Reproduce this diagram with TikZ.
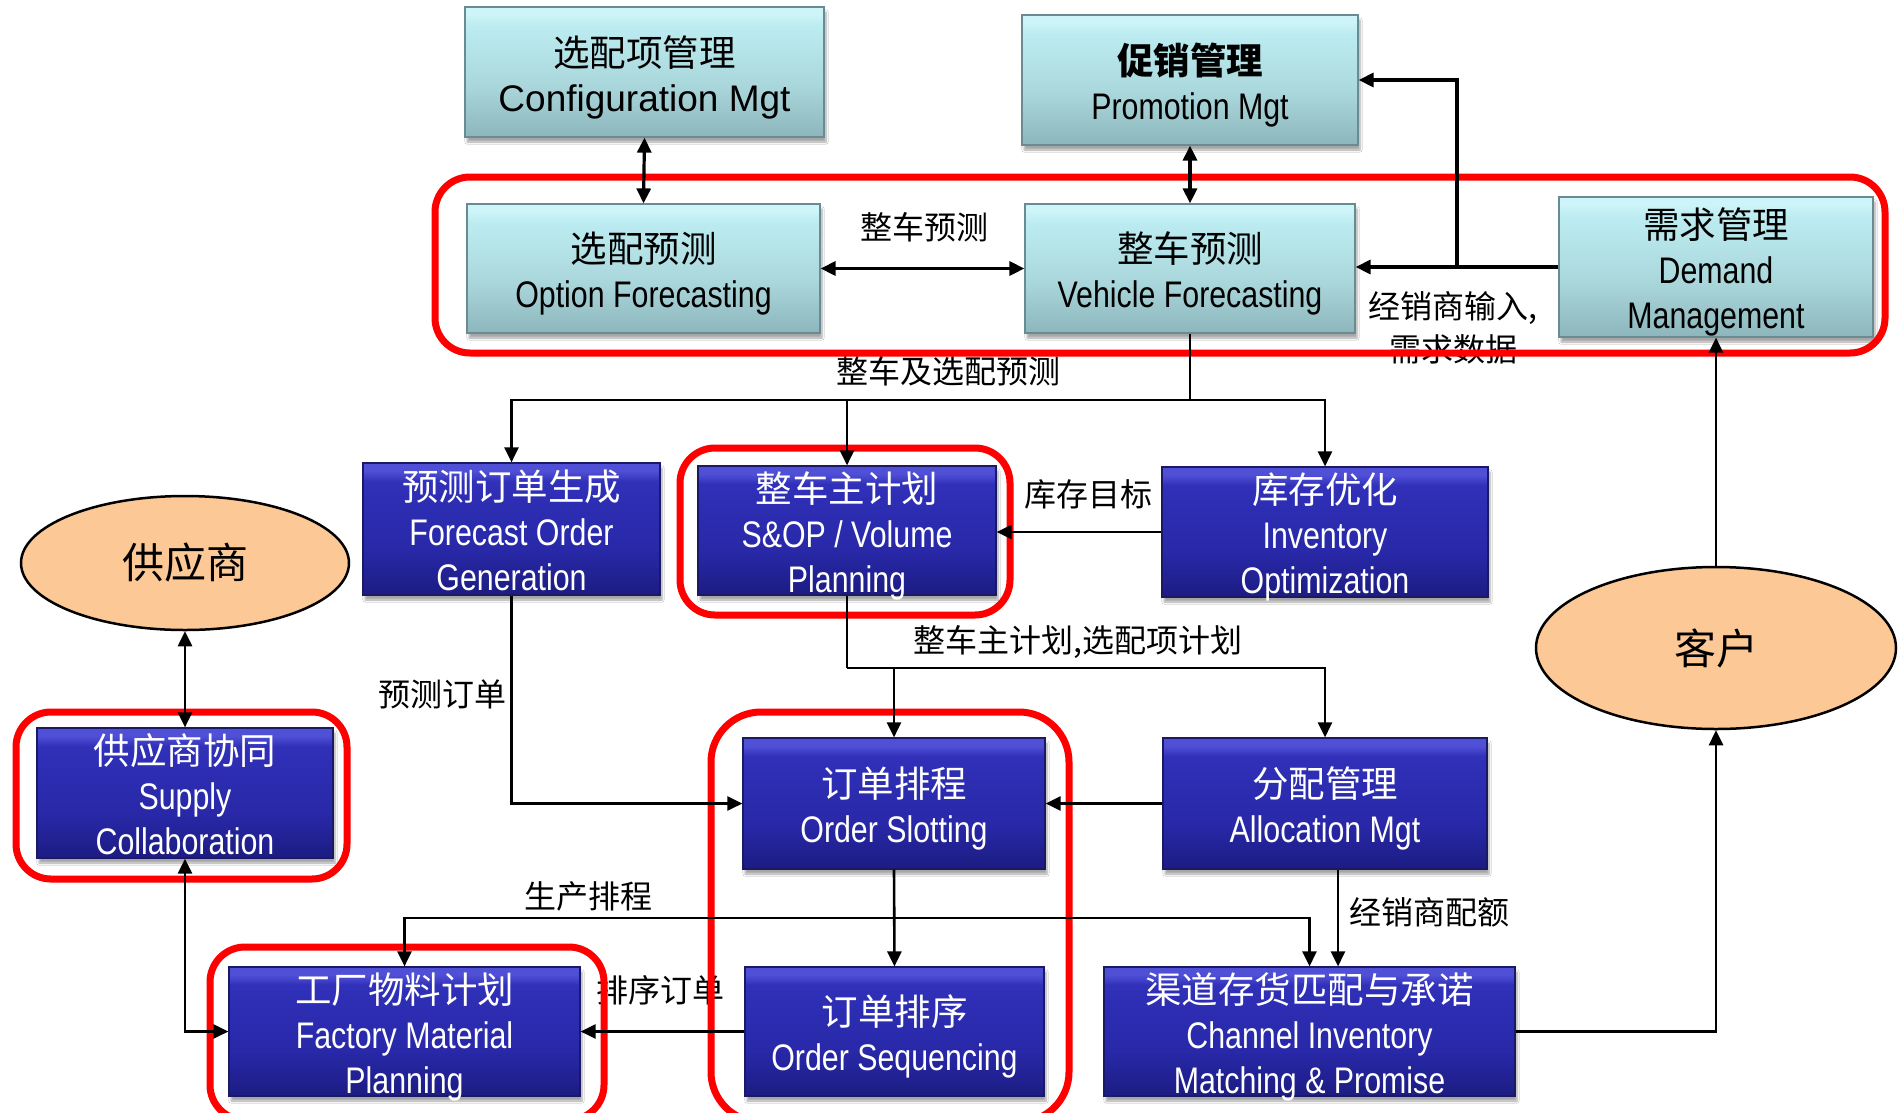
\documentclass[tikz,border=0pt]{standalone}
\usepackage{fontspec}
\setmainfont{Liberation Sans}
\newfontfamily\narrow{Liberation Sans}[FakeStretch=0.82]
\newfontfamily\cjk{Noto Sans CJK SC}
\usetikzlibrary{arrows.meta,shapes.geometric,shadows.blur}
\definecolor{cyT2}{RGB}{205,244,248}
\definecolor{cyT}{RGB}{188,236,241}
\definecolor{cyM}{RGB}{170,215,220}
\definecolor{cyB}{RGB}{140,182,188}
\definecolor{cyE}{RGB}{105,140,146}
\definecolor{blT2}{RGB}{80,80,215}
\definecolor{blT}{RGB}{48,48,185}
\definecolor{blM}{RGB}{40,40,168}
\definecolor{blB}{RGB}{28,28,130}
\definecolor{blE}{RGB}{25,25,100}
\definecolor{peach}{RGB}{252,201,150}
\pgfdeclareverticalshading{cysh}{100bp}{color(0bp)=(cyB); color(25bp)=(cyB); color(45bp)=(cyM); color(68bp)=(cyT); color(72bp)=(cyT2); color(75bp)=(cyT2); color(100bp)=(cyT2)}
\pgfdeclareverticalshading{blsh}{100bp}{color(0bp)=(blB); color(25bp)=(blB); color(42bp)=(blM); color(68bp)=(blT); color(72bp)=(blT2); color(75bp)=(blT2); color(100bp)=(blT2)}
\newcommand{\zh}[1]{{\cjk\fontsize{36.5}{45}\selectfont #1}}
% style, name, x, y, width, height, text shift down, text
\newcommand{\mkbox}[8]{%
  \node[#1, minimum width=#5pt, minimum height=#6pt] (#2) at (#3,#4) {};
  \node[#1txt] (#2-t) at ([yshift=-#7pt]#2.center) {#8};}
\begin{document}
\begin{tikzpicture}[x=1pt,y=-1pt,
  >={Triangle[length=15pt,width=14pt]},
  boxbase/.style={rectangle, inner sep=0pt, line width=1.2pt,
    blur shadow={shadow xshift=2pt,shadow yshift=-5pt,shadow blur steps=6,shadow opacity=35}},
  cybox/.style={boxbase, draw=cyE, shading=cysh},
  blbox/.style={boxbase, draw=blE, shading=blsh},
  txtbase/.style={inner sep=0pt, align=center, font=\narrow\fontsize{37}{45}\selectfont},
  cyboxtxt/.style={txtbase, text=black},
  blboxtxt/.style={txtbase, text=white},
  ell/.style={ellipse, draw=black, line width=2.5pt, fill=peach, inner sep=0pt,
    font=\cjk\fontsize{42}{48}\selectfont},
  lab/.style={inner sep=0pt, font=\cjk\fontsize{32}{38}\selectfont},
  redf/.style={draw=red, line width=7pt, rounded corners=35pt},
  conT/.style={line width=3.2pt},
  con/.style={line width=2.6pt}
]
\useasboundingbox (0,0) rectangle (1899,1112);
\fill[white] (0,0) rectangle (1899,1112);

% cyan boxes
\mkbox{cybox}{cfg}{644.5}{72}{359}{130}{5}
  {\zh{选配项管理}\\{\normalfont\fontsize{37}{45}\selectfont Configuration Mgt}}
\mkbox{cybox}{promo}{1190}{80}{336}{130}{5}
  {\zh{\bfseries 促销管理}\\Promotion Mgt}
\mkbox{cybox}{opt}{643.5}{268.5}{353}{129}{5}
  {\zh{选配预测}\\Option Forecasting}
\mkbox{cybox}{veh}{1190}{268.5}{330}{129}{5}
  {\zh{整车预测}\\Vehicle Forecasting}
\mkbox{cybox}{dem}{1716}{267}{314}{140}{5}
  {\zh{需求管理}\\Demand\\Management}

% blue boxes
\mkbox{blbox}{fog}{511.5}{529}{297}{132}{1.5}
  {\zh{预测订单生成}\\Forecast Order\\Generation}
\mkbox{blbox}{sop}{847}{530.5}{298}{129}{5}
  {\zh{整车主计划}\\S\&OP / Volume\\Planning}
\mkbox{blbox}{inv}{1325}{532}{326}{130}{5}
  {\zh{库存优化}\\Inventory\\Optimization}
\mkbox{blbox}{sup}{185}{793}{296}{130}{1.5}
  {\zh{供应商协同}\\Supply\\Collaboration}
\mkbox{blbox}{slot}{894}{803.5}{302}{131}{5}
  {\zh{订单排程}\\Order Slotting}
\mkbox{blbox}{alloc}{1325}{803.5}{324}{131}{5}
  {\zh{分配管理}\\Allocation Mgt}
\mkbox{blbox}{fmp}{404.5}{1031.5}{351}{129}{5}
  {\zh{工厂物料计划}\\Factory Material\\Planning}
\mkbox{blbox}{seq}{894.5}{1031.5}{299}{129}{5}
  {\zh{订单排序}\\Order Sequencing}
\mkbox{blbox}{cim}{1309.5}{1031.5}{411}{129}{5}
  {\zh{渠道存货匹配与承诺}\\Channel Inventory\\Matching \& Promise}

% ellipses
\node[ell, minimum width=328pt, minimum height=134pt] (supplier) at (185,563) {供应商};
\node[ell, minimum width=360pt, minimum height=162pt] (cust) at (1716,648) {客户};

% labels
\node[lab] (l1) at (924,227) {整车预测};
\node[lab] (l2) at (1453,308) {经销商输入,};
\node[lab] (l3) at (1453,349) {需求数据};
\node[lab] (l4) at (948,371) {整车及选配预测};
\node[lab] (l5) at (1088,494) {库存目标};
\node[lab] (l6) at (1078,642) {整车主计划,选配项计划};
\node[lab] (l7) at (442,694) {预测订单};
\node[lab] (l8) at (588,896) {生产排程};
\node[lab] (l9) at (660,990) {排序订单};
\node[lab] (l10) at (1429,912) {经销商配额};

% red frames
\draw[redf] (435,177) rectangle (1885,353);
\draw[redf] (680,448) rectangle (1010,615);
\draw[redf] (16,712) rectangle (347,879);
\begin{scope}
\clip (0,0) rectangle (1899,1112);
\draw[redf, rounded corners=50pt] (711,712) rectangle (1069,1122);
\draw[redf] (210,947) rectangle (604,1120);
\end{scope}

% connectors (top)
\coordinate (j1) at (1457,267);
\draw[conT,<->] (cfg.south) -- (opt.north);
\draw[conT,<->] (promo.south) -- (veh.north);
\draw[conT,<->] (opt.east) -- (veh.west);
\draw[conT,->] (dem.west) -- (dem.west -| veh.east);
\draw[conT,->] (j1) |- (promo.east);

% connectors (middle)
\coordinate (b1) at (1190,400);
\draw[con] (veh.south) -- (b1);
\draw[con,->] (b1) -| (fog.north);
\draw[con,->] (b1) -| (inv.north);
\draw[con,->] (sop.north |- b1) -- (sop.north);
\draw[con,->] (inv.west) -- (inv.west -| sop.east);

\coordinate (b2) at (847,668);
\draw[con] (sop.south) -- (b2);
\draw[con,->] (b2) -| (alloc.north);
\draw[con,->] (slot.north |- b2) -- (slot.north);

\draw[con,->] (fog.south) |- (slot.west);
\draw[con,->] (alloc.west) -- (alloc.west -| slot.east);
\draw[con,->] (slot.south) -- (seq.north);

\coordinate (b3) at (894.5,918);
\draw[con,->] (b3) -| (fmp.north);
\draw[con,->] (b3) -| (cim.north);
\coordinate (aq) at ([xshift=13pt]alloc.south);
\draw[con,->] (aq) -- (aq |- cim.north);

% connectors (bottom)
\draw[con,->] (seq.west) -- (seq.west -| fmp.east);
\draw[con,<->] (sup.south) |- (fmp.west);
\draw[con,<->] (sup.north) -- (supplier.south);
\draw[con,->] (cim.east) -| (cust.south);
\draw[con,->] (cust.north) -- (dem.south);
\end{tikzpicture}
\end{document}
